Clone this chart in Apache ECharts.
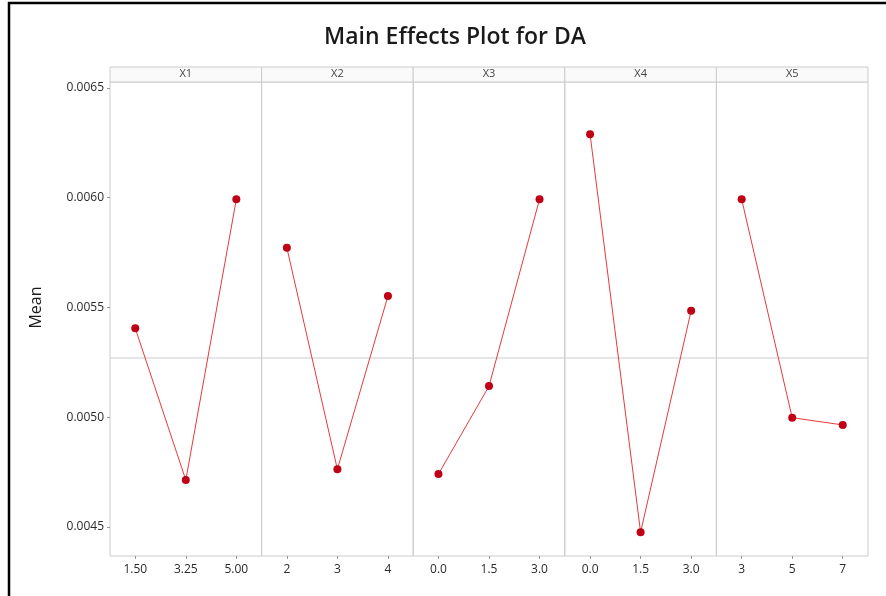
<!DOCTYPE html>
<html>
<head>
<meta charset="utf-8">
<script src="https://cdn.jsdelivr.net/npm/echarts@6/dist/echarts.min.js"></script>
<style>html,body{margin:0;padding:0;background:#fff;}#c{width:886px;height:596px;}</style>
</head>
<body>
<div id="c"></div>
<script>
// ---- data ----
const factors = ['X1', 'X2', 'X3', 'X4', 'X5'];
const levelsX1 = ['1.50', '3.25', '5.00'];
const levelsX2 = ['2', '3', '4'];
const levelsX3 = ['0.0', '1.5', '3.0'];
const levelsX4 = ['0.0', '1.5', '3.0'];
const levelsX5 = ['3', '5', '7'];
const meansX1 = [0.005405, 0.004714, 0.005993];
const meansX2 = [0.005772, 0.004763, 0.005552];
const meansX3 = [0.004741, 0.005142, 0.005993];
const meansX4 = [0.006289, 0.004476, 0.005485];
const meansX5 = [0.005993, 0.004998, 0.004965];
const grandMean = 0.00527;
const yTickMin = 0.0045, yTickMax = 0.0065, yTickStep = 0.0005;
const titleText = 'Main Effects Plot for DA';
const yName = 'Mean';

// ---- layout ----
const levels = [levelsX1, levelsX2, levelsX3, levelsX4, levelsX5];
const means = [meansX1, meansX2, meansX3, meansX4, meansX5];
const plotLeft = 110, plotRight = 868, plotTop = 82, plotBottom = 556;
const tickTopPx = 88, tickBottomPx = 527;
const pxPerUnit = (tickBottomPx - tickTopPx) / (yTickMax - yTickMin);
const dataMax = yTickMax + (tickTopPx - plotTop) / pxPerUnit;
const dataMin = yTickMin - (plotBottom - tickBottomPx) / pxPerUnit;
const pw = (plotRight - plotLeft) / factors.length;
const font = '"Open Sans", "Noto Sans", sans-serif';
const gray = '#cccccc';
const n = factors.length;

const grid = [], xAxis = [], yAxis = [], series = [], graphic = [];
// data panels: grid indices 0..n-1, category x axes 0..n-1, y axes 0..n-1
factors.forEach((f, i) => {
  const left = plotLeft + i * pw;
  grid.push({left: left, width: pw, top: plotTop, height: plotBottom - plotTop,
    show: true, borderColor: gray, borderWidth: 1, backgroundColor: 'transparent'});
  xAxis.push({type: 'category', gridIndex: i, data: levels[i], boundaryGap: true,
    axisLine: {show: false},
    axisTick: {show: true, alignWithLabel: true, length: 3, lineStyle: {color: '#999'}},
    axisLabel: {fontSize: 12, color: '#2a2a2a', fontFamily: font, margin: 8},
    splitLine: {show: false}});
  yAxis.push({type: 'value', gridIndex: i, min: dataMin, max: dataMax, show: false,
    splitLine: {show: false}});
});
// hidden value x axes for the reference line: indices n..2n-1
factors.forEach((f, i) => {
  xAxis.push({type: 'value', gridIndex: i, min: 0, max: 1, show: false, splitLine: {show: false}});
  series.push({type: 'line', xAxisIndex: n + i, yAxisIndex: i,
    data: [[0, grandMean], [1, grandMean]], symbol: 'none', silent: true,
    lineStyle: {color: gray, width: 1}, z: 1});
  series.push({type: 'line', xAxisIndex: i, yAxisIndex: i, data: means[i],
    symbol: 'circle', symbolSize: 8, clip: false,
    lineStyle: {color: '#e8393a', width: 1},
    itemStyle: {color: '#c00014'}, z: 3});
});
// header strips
factors.forEach((f, i) => {
  const left = plotLeft + i * pw;
  grid.push({left: left, width: pw, top: 67, height: 15, show: true,
    borderColor: gray, borderWidth: 1, backgroundColor: '#fafafa'});
  const hi = grid.length - 1;
  xAxis.push({type: 'category', gridIndex: hi, data: [f], position: 'top',
    axisLine: {show: false}, axisTick: {show: false},
    axisLabel: {inside: true, margin: 1, fontSize: 11, color: '#444', fontFamily: font,
      verticalAlign: 'top'}});
  yAxis.push({type: 'value', gridIndex: hi, show: false});
});

// label-only axis for y ticks
grid.push({left: plotLeft, width: plotRight - plotLeft, top: tickTopPx,
  height: tickBottomPx - tickTopPx, show: false});
const li = grid.length - 1;
xAxis.push({type: 'value', gridIndex: li, show: false, min: 0, max: 1});
yAxis.push({type: 'value', gridIndex: li, min: yTickMin, max: yTickMax, interval: yTickStep,
  axisLine: {show: false},
  axisTick: {show: true, length: 3, lineStyle: {color: '#999'}},
  axisLabel: {fontSize: 12, color: '#2a2a2a', fontFamily: font, margin: 6,
    formatter: v => v.toFixed(4)},
  splitLine: {show: false},
  name: yName, nameLocation: 'middle', nameGap: 66, nameRotate: 90,
  nameTextStyle: {fontSize: 16, color: '#1a1a1a', fontFamily: font}});
series.push({type: 'line', xAxisIndex: xAxis.length - 1, yAxisIndex: yAxis.length - 1, data: [], silent: true});

graphic.push({type: 'text', x: 455, y: 37, style: {text: titleText,
  font: '600 23px ' + font, fill: '#1a1a1a', align: 'center', verticalAlign: 'middle',
  textAlign: 'center', textVerticalAlign: 'middle'}});
graphic.push({type: 'rect', shape: {x: 9, y: 3, width: 900, height: 620},
  style: {fill: 'none', stroke: '#000', lineWidth: 2.5}, silent: true});

const chart = echarts.init(document.getElementById('c'), null, {renderer: 'canvas'});
chart.setOption({animation: false, backgroundColor: '#fff', grid, xAxis, yAxis, series, graphic});
</script>
</body>
</html>
